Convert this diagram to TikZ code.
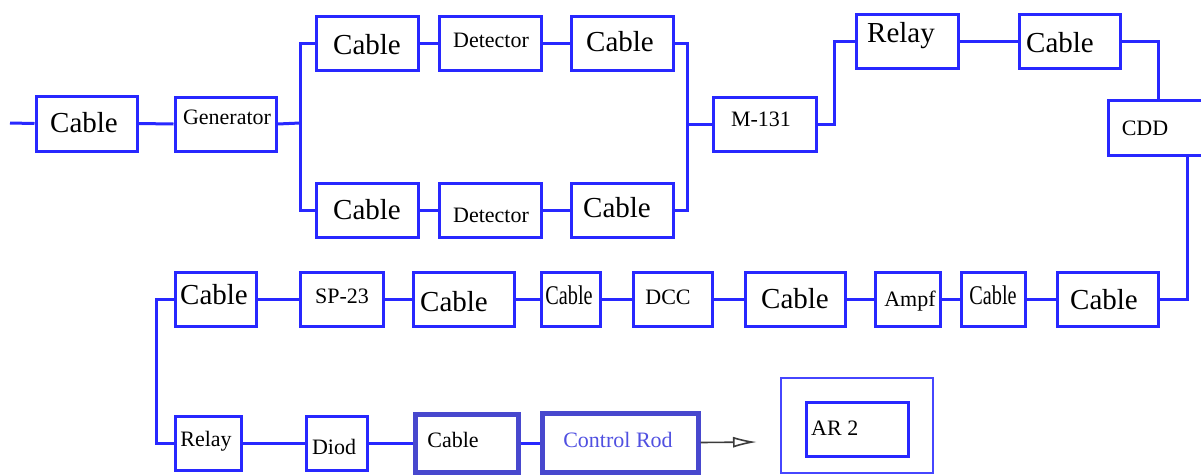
\documentclass[tikz,border=0pt]{standalone}
\usepackage{fontspec}
\setmainfont{Liberation Serif}
\newfontfamily\tnr{Liberation Serif}
\usepackage{graphicx}
\usetikzlibrary{arrows.meta}
\definecolor{boxblue}{RGB}{40,40,255}
\definecolor{boldblue}{RGB}{72,72,206}
\definecolor{rodtext}{RGB}{80,80,225}
\definecolor{outerblue}{RGB}{70,70,255}
\definecolor{arrowgray}{RGB}{60,60,60}
\newcommand\mybox[6][blk]{\node[#1, minimum width={(#5-#3)*1pt}, minimum height={(#6-#4)*1pt}] (#2) at ({(#3+#5)/2},{(#4+#6)/2}) {};}
\tikzset{
  blk/.style={draw=boxblue, line width=3pt, inner sep=0pt},
  boldblk/.style={draw=boldblue, line width=5pt, inner sep=0pt},
  outerblk/.style={draw=outerblue, line width=2pt, inner sep=0pt},
  wire/.style={draw=boxblue, line width=3pt, line join=miter},
  big/.style={font=\tnr\fontsize{29}{29}\selectfont, inner sep=0pt},
  sml/.style={font=\tnr\fontsize{22}{22}\selectfont, inner sep=0pt},
  squish/.style={font=\tnr\fontsize{27}{27}\selectfont, inner sep=0pt},
  arrowsty/.style={draw=arrowgray, line width=1.6pt, -{Latex[open,length=24pt,width=11pt]}},
}
\begin{document}
\begin{tikzpicture}[x=1pt,y=-1pt]
\useasboundingbox (0,0) rectangle (1201,475);
\fill[white] (0,0) rectangle (1201,475);
\clip (0,0) rectangle (1201,475);
% top part
\mybox{c1}{36}{96}{137}{151}
\mybox{gen}{175}{97}{276}{151}
\mybox{tc1}{316}{16}{418}{70}
\mybox{bc1}{316}{183}{418}{237}
\mybox{td}{439}{16}{541}{70}
\mybox{bd}{439}{183}{541}{237}
\mybox{tc2}{571}{16}{673}{70}
\mybox{bc2}{571}{183}{673}{237}
\mybox{m}{713}{97}{816}{151}
\mybox{rl1}{856}{14}{958}{68}
\mybox{tc3}{1019}{14}{1120}{68}
\mybox{cdd}{1108}{100}{1208}{155}
% middle row
\mybox{r1}{175}{272}{256}{326}
\mybox{sp}{300}{272}{383}{326}
\mybox{r3}{413}{272}{514}{326}
\mybox{r4}{541}{272}{600}{326}
\mybox{dcc}{633}{272}{712}{326}
\mybox{r6}{745}{272}{845}{326}
\mybox{amp}{875}{272}{940}{326}
\mybox{r8}{961}{272}{1025}{326}
\mybox{r9}{1057}{272}{1158}{326}
% bottom row
\mybox{rl2}{175}{416}{241}{470}
\mybox{di}{306}{416}{367}{470}
\mybox[boldblk]{cb}{415}{414}{518}{472}
\mybox[boldblk]{cr}{542}{413}{698}{472}
\mybox[outerblk]{aro}{781}{378}{933}{473}
\mybox{ari}{806}{402}{908}{456}
% texts
\node[big] (t-c1) at (84,123) {Cable};
\node[sml] (t-gen) at (227,117) {Generator};
\node[big] (t-tc1) at (367,45) {Cable};
\node[big] (t-bc1) at (367,210) {Cable};
\node[sml] (t-td) at (491,40) {Detector};
\node[sml] (t-bd) at (491,215) {Detector};
\node[big] (t-tc2) at (620,42) {Cable};
\node[big] (t-bc2) at (617,208) {Cable};
\node[sml] (t-m) at (761,119) {M-131};
\node[big, anchor=west] (t-rl1) at (867,36) {Relay};
\node[big] (t-tc3) at (1060,43) {Cable};
\node[sml] (t-cdd) at (1145,128) {CDD};
\node[big] (t-r1) at (214,295) {Cable};
\node[sml] (t-sp) at (342,296) {SP-23};
\node[big] (t-r3) at (454,302) {Cable};
\node[squish] (t-r4) at (569,295) {\scalebox{0.75}[1]{Cable}};
\node[sml] (t-dcc) at (668,297) {DCC};
\node[big] (t-r6) at (795,299) {Cable};
\node[sml] (t-amp) at (910,301) {Ampf};
\node[squish] (t-r8) at (993,295) {\scalebox{0.75}[1]{Cable}};
\node[big] (t-r9) at (1104,300) {Cable};
\node[sml] (t-rl2) at (206,441) {Relay};
\node[sml] (t-di) at (334,447) {Diod};
\node[sml] (t-cb) at (453,440) {Cable};
\node[sml, text=rodtext] (t-cr) at (618,440) {Control Rod};
\node[sml, anchor=west] (t-ar) at (811,428) {AR 2};
% junctions
\coordinate (in) at (10,123);
\coordinate (j1) at (300,123);
\coordinate (j2) at (687,124);
\coordinate (j3) at (834,124);
\coordinate (j5) at (1187,299);
\coordinate (j6) at (156,299);
\coordinate (aend) at (757,442);
% wires
\draw[wire] (in) -- (c1.west);
\draw[wire] (c1.east) -- (gen.west);
\draw[wire] (gen.east) -- (j1);
\draw[wire] (tc1.west) -| (j1) |- (bc1.west);
\draw[wire] (tc1.east) -- (td.west);
\draw[wire] (td.east) -- (tc2.west);
\draw[wire] (bc1.east) -- (bd.west);
\draw[wire] (bd.east) -- (bc2.west);
\draw[wire] (tc2.east) -| (j2) |- (bc2.east);
\draw[wire] (j2) -- (m.west);
\draw[wire] (m.east) -- (j3) |- (rl1.west);
\draw[wire] (rl1.east) -- (tc3.west);
\draw[wire] (tc3.east) -| (cdd.north);
\draw[wire] (cdd.south -| j5) -- (j5) -- (r9.east);
\draw[wire] (r9.west) -- (r8.east);
\draw[wire] (r8.west) -- (amp.east);
\draw[wire] (amp.west) -- (r6.east);
\draw[wire] (r6.west) -- (dcc.east);
\draw[wire] (dcc.west) -- (r4.east);
\draw[wire] (r4.west) -- (r3.east);
\draw[wire] (r3.west) -- (sp.east);
\draw[wire] (sp.west) -- (r1.east);
\draw[wire] (r1.west) -- (j6) |- (rl2.west);
\draw[wire] (rl2.east) -- (di.west);
\draw[wire] (di.east) -- (di.east -| cb.west);
\draw[wire] (cb.east) -- (cb.east -| cr.west);
\draw[arrowsty] (cr.east) -- (aend);
\end{tikzpicture}
\end{document}
